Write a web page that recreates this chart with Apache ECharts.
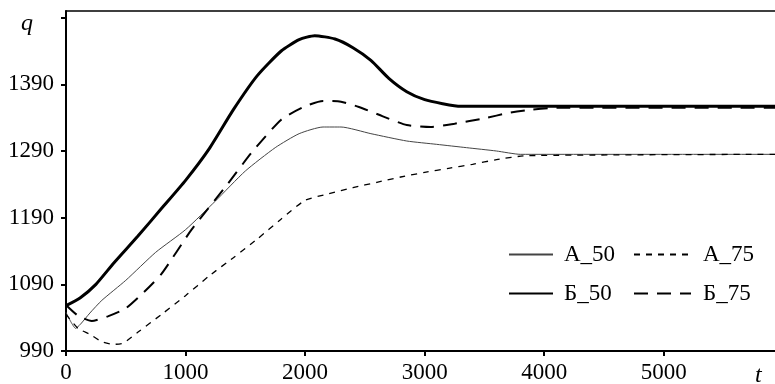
<!DOCTYPE html>
<html>
<head>
<meta charset="utf-8">
<script src="https://cdn.jsdelivr.net/npm/echarts@6/dist/echarts.min.js"></script>
<style>
html,body{margin:0;padding:0;background:#fff;}
#chart{width:775px;height:384px;}
</style>
</head>
<body>
<div id="chart"></div>
<script>
// ---- data (t, q) ----
const seriesNames = ['А_50', 'А_75', 'Б_50', 'Б_75'];
const xTickLabels = [0, 1000, 2000, 3000, 4000, 5000];
const yTickLabels = [990, 1090, 1190, 1290, 1390];
const yTicks = [990, 1090, 1190, 1290, 1390, 1490];

const dataA50 = [[0,1048],[40,1034],[80,1024],[120,1030],[200,1047],[300,1066],[500,1096],[750,1138],[1000,1172],[1250,1215],[1500,1260],[1750,1295],[1950,1316],[2150,1326],[2300,1326],[2550,1316],[2850,1305],[3100,1300],[3350,1295],[3600,1290],[3800,1285],[6000,1285]];
const dataA75 = [[0,1045],[100,1024],[200,1015],[300,1004],[400,1000],[480,1002],[600,1018],[800,1045],[1000,1073],[1200,1103],[1400,1130],[1600,1158],[1800,1188],[2000,1216],[2200,1226],[2400,1235],[2600,1243],[2800,1251],[3000,1258],[3200,1264],[3400,1270],[3600,1277],[3850,1283],[6000,1285]];
const dataB50 = [[0,1058],[120,1070],[250,1090],[400,1122],[600,1162],[800,1204],[1000,1246],[1200,1294],[1400,1352],[1600,1403],[1800,1440],[1950,1457],[2080,1463],[2250,1458],[2400,1445],[2550,1426],[2700,1399],[2850,1379],[3000,1367],[3150,1361],[3300,1357],[6000,1357]];
const dataB75 = [[0,1059],[100,1043],[215,1035],[350,1042],[500,1054],[650,1078],[800,1106],[1050,1172],[1350,1240],[1550,1287],[1800,1337],[2000,1357],[2150,1365],[2300,1364],[2450,1356],[2650,1342],[2850,1329],[3050,1326],[3250,1331],[3500,1339],[3700,1347],[3900,1352],[4100,1355],[6000,1355]];

const FONT = "'Liberation Serif', 'Times New Roman', serif";
const chart = echarts.init(document.getElementById('chart'), null, {renderer: 'canvas'});

function legendAt(name, left, top, w, pad) {
  return {
    data: [{name: name, itemStyle: {opacity: 0}}], left: left, top: top, orient: 'horizontal',
    itemWidth: w, itemHeight: 14, padding: 0, selectedMode: false,
    itemStyle: {opacity: 0},
    textStyle: {fontFamily: FONT, fontSize: 23, color: '#000', padding: [0,0,0,pad]}
  };
}
const plain = v => String(v);

chart.setOption({
  animation: false,
  backgroundColor: '#fff',
  grid: {left: 66, right: 0, top: 11, bottom: 31, containLabel: false},
  xAxis: [{
    type: 'value', min: 0, max: 5930, position: 'bottom',
    axisLine: {show: true, onZero: false, lineStyle: {color: '#000', width: 2}},
    axisTick: {show: true, inside: false, length: 5, lineStyle: {color: '#000', width: 2}, customValues: xTickLabels},
    axisLabel: {show: true, margin: 10, color: '#000', fontFamily: FONT, fontSize: 23, customValues: xTickLabels, formatter: plain},
    splitLine: {show: false}
  }, {
    type: 'value', min: 0, max: 5930, position: 'top',
    axisLine: {show: true, onZero: false, lineStyle: {color: '#000', width: 1.5}},
    axisTick: {show: false}, axisLabel: {show: false}, splitLine: {show: false}
  }],
  yAxis: {
    type: 'value', min: 990, max: 1500,
    axisLine: {show: true, onZero: false, lineStyle: {color: '#000', width: 2}},
    axisTick: {show: true, inside: false, length: 5, lineStyle: {color: '#000', width: 2}, customValues: yTicks},
    axisLabel: {show: true, margin: 12, color: '#000', fontFamily: FONT, fontSize: 23, customValues: yTickLabels, formatter: plain},
    splitLine: {show: false}
  },
  legend: [
    legendAt('А_50', 508, 243, 44, 6),
    legendAt('А_75', 633, 243, 57, 7),
    legendAt('Б_50', 508, 282, 44, 6),
    legendAt('Б_75', 633, 282, 57, 7)
  ],
  graphic: [
    {type: 'text', left: 21, top: 12, style: {text: 'q', fontFamily: FONT, fontStyle: 'italic', fontSize: 24, fill: '#000'}},
    {type: 'text', left: 755, top: 364, style: {text: 't', fontFamily: FONT, fontStyle: 'italic', fontSize: 24, fill: '#000'}}
  ],
  series: [
    {name: 'А_50', type: 'line', data: dataA50, symbol: 'none', showSymbol: false, smooth: 0.2,
     lineStyle: {color: '#444', width: 1}, itemStyle: {color: '#444'}},
    {name: 'А_75', type: 'line', data: dataA75, symbol: 'none', showSymbol: false, smooth: 0.2,
     lineStyle: {color: '#000', width: 1.3, type: [6, 6]}, itemStyle: {color: '#000'}},
    {name: 'Б_50', type: 'line', data: dataB50, symbol: 'none', showSymbol: false, smooth: 0.2,
     lineStyle: {color: '#000', width: 3}, itemStyle: {color: '#000'}},
    {name: 'Б_75', type: 'line', data: dataB75, symbol: 'none', showSymbol: false, smooth: 0.2,
     lineStyle: {color: '#000', width: 2, type: [14, 9]}, itemStyle: {color: '#000'}}
  ]
});
</script>
</body>
</html>
